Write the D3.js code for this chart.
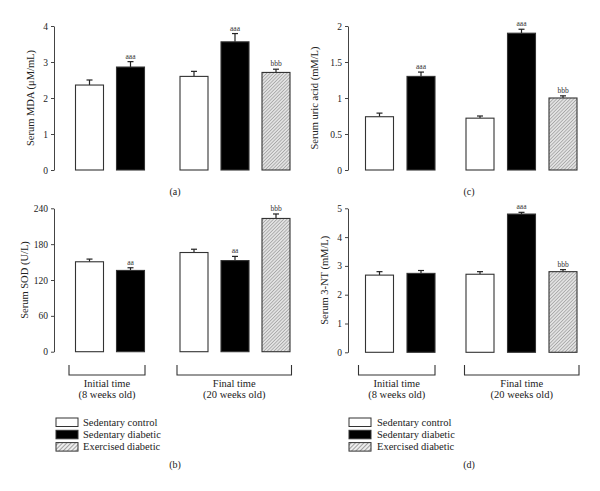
<!DOCTYPE html>
<html>
<head>
<meta charset="utf-8">
<script src="https://cdn.jsdelivr.net/npm/d3@7"></script>
<style>
  body { margin: 0; background: #fff; }
  svg { display: block; }
</style>
</head>
<body>
<svg id="chart" width="600" height="491"></svg>
<script>
// ---- Data ----
const groups = ["Initial time", "Final time"];
const groupSub = ["(8 weeks old)", "(20 weeks old)"];
const series = ["Sedentary control", "Sedentary diabetic", "Exercised diabetic"];
// bars per group: Initial has 2 series, Final has 3
const barGroup  = [0, 0, 1, 1, 1];
const barSeries = [0, 1, 0, 1, 2];

const mdaValues  = [2.36, 2.86, 2.60, 3.56, 2.71];
const mdaErrors  = [0.14, 0.15, 0.14, 0.23, 0.09];
const mdaSig     = ["", "aaa", "", "aaa", "bbb"];
const mdaTicks   = [0, 1, 2, 3, 4];

const uricValues = [0.74, 1.30, 0.72, 1.90, 1.00];
const uricErrors = [0.05, 0.06, 0.03, 0.055, 0.03];
const uricSig    = ["", "aaa", "", "aaa", "bbb"];
const uricTicks  = [0, 0.5, 1, 1.5, 2];

const sodValues  = [150.5, 136, 166, 152.5, 223];
const sodErrors  = [4.5, 4.5, 5.5, 7, 7.5];
const sodSig     = ["", "aa", "", "aa", "bbb"];
const sodTicks   = [0, 60, 120, 180, 240];

const ntValues   = [2.68, 2.74, 2.71, 4.80, 2.80];
const ntErrors   = [0.12, 0.10, 0.09, 0.06, 0.07];
const ntSig      = ["", "", "", "aaa", "bbb"];
const ntTicks    = [0, 1, 2, 3, 4, 5];

const panels = [
  { id: "a", title: "Serum MDA (\u03bcM/mL)", values: mdaValues, errors: mdaErrors, sig: mdaSig, ticks: mdaTicks,
    axisX: 54, x0: 89.5, step: 41, gap: 22.5, yTop: 26, yBot: 170, titleX: 32, label: "(a)", labelY: 195, bracket: false, legend: false },
  { id: "c", title: "Serum uric acid (mM/L)", values: uricValues, errors: uricErrors, sig: uricSig, ticks: uricTicks,
    axisX: 348, x0: 379.5, step: 41.5, gap: 17.5, yTop: 26, yBot: 170, titleX: 316, label: "(c)", labelY: 195, bracket: false, legend: false },
  { id: "b", title: "Serum SOD (U/L)", values: sodValues, errors: sodErrors, sig: sodSig, ticks: sodTicks,
    axisX: 54, x0: 89.5, step: 41, gap: 22.5, yTop: 208.3, yBot: 351.7, titleX: 26, label: "(b)", labelY: 468, bracket: true, legend: true,
    brackets: [[69, 145], [177, 291.5]], legendX: 56, legendTextX: 83 },
  { id: "d", title: "Serum 3-NT (mM/L)", values: ntValues, errors: ntErrors, sig: ntSig, ticks: ntTicks,
    axisX: 348, x0: 379.5, step: 41.5, gap: 17.5, yTop: 208.3, yBot: 352.3, titleX: 326, label: "(d)", labelY: 468, bracket: true, legend: true,
    brackets: [[358.5, 435], [464.5, 579]], legendX: 349, legendTextX: 377 }
];

const FONT = "'Liberation Serif', 'DejaVu Serif', 'Times New Roman', serif";
const svg = d3.select("#chart").style("font-family", FONT);

// hatch patterns
const defs = svg.append("defs");
function hatch(id, spacing, color, width, bg) {
  const p = defs.append("pattern").attr("id", id).attr("patternUnits", "userSpaceOnUse")
    .attr("width", spacing).attr("height", spacing).attr("patternTransform", "rotate(45)");
  p.append("rect").attr("width", spacing).attr("height", spacing).attr("fill", bg);
  p.append("line").attr("x1", 0).attr("y1", 0).attr("x2", 0).attr("y2", spacing)
    .attr("stroke", color).attr("stroke-width", width);
}
hatch("hatchBar", 2.4, "#777", 0.9, "#e2e2e2");
hatch("hatchLegend", 3, "#555", 1, "#eee");

const fills = ["#fff", "#000", "url(#hatchBar)"];
const legendFills = ["#fff", "#000", "url(#hatchLegend)"];
const barW = 28;

function txt(sel) {
  return sel.style("font-family", FONT).attr("fill", "#222");
}

panels.forEach(p => {
  const g = svg.append("g");
  const maxT = p.ticks[p.ticks.length - 1];
  const y = d3.scaleLinear().domain([0, maxT]).range([p.yBot, p.yTop]);
  const xCenter = i => p.x0 + i * p.step + barGroup[i] * p.gap;

  // axis
  const axis = d3.axisLeft(y).tickValues(p.ticks).tickSize(3).tickSizeOuter(0).tickPadding(3)
    .tickFormat(d => d3.format("")(d));
  const ag = g.append("g").attr("transform", `translate(${p.axisX},0)`).call(axis)
    .attr("font-family", null).attr("font-size", null);
  ag.select(".domain").attr("stroke", "#444").attr("stroke-width", 1);
  ag.selectAll(".tick line").attr("stroke", "#444");
  txt(ag.selectAll(".tick text")).style("font-size", "9.5px");

  // title
  txt(g.append("text").attr("transform", `translate(${p.titleX},${(p.yTop + p.yBot) / 2}) rotate(-90)`)
    .attr("text-anchor", "middle").attr("dominant-baseline", "middle")
    .style("font-size", "10.5px").text(p.title));

  // bars
  p.values.forEach((v, i) => {
    const cx = xCenter(i);
    const s = barSeries[i];
    const eTop = y(v + p.errors[i]);
    g.append("line").attr("x1", cx).attr("x2", cx).attr("y1", y(v)).attr("y2", eTop)
      .attr("stroke", "#222").attr("stroke-width", 1.2);
    g.append("line").attr("x1", cx - 3).attr("x2", cx + 3).attr("y1", eTop).attr("y2", eTop)
      .attr("stroke", "#222").attr("stroke-width", 1.2);
    g.append("rect").attr("x", cx - barW / 2).attr("y", y(v)).attr("width", barW).attr("height", y(0) - y(v))
      .attr("fill", fills[s]).attr("stroke", "#333").attr("stroke-width", 1.1);
    if (p.sig[i]) {
      txt(g.append("text").attr("x", cx).attr("y", eTop - 3).attr("text-anchor", "middle")
        .style("font-size", "7.5px").text(p.sig[i])).attr("fill", "#333");
    }
  });

  // panel label
  txt(g.append("text").attr("x", p.axisX + 121)
    .attr("y", p.labelY).attr("text-anchor", "middle").style("font-size", "10px").text(p.label));

  // brackets
  if (p.bracket) {
    p.brackets.forEach((b, gi) => {
      g.append("path").attr("d", `M${b[0]},365 V375 H${b[1]} V365`)
        .attr("fill", "none").attr("stroke", "#333").attr("stroke-width", 1.1);
      const mx = (b[0] + b[1]) / 2;
      txt(g.append("text").attr("x", mx).attr("y", 387).attr("text-anchor", "middle").style("font-size", "10.5px").text(groups[gi]));
      txt(g.append("text").attr("x", mx).attr("y", 398).attr("text-anchor", "middle").style("font-size", "10.5px").text(groupSub[gi]));
    });
  }

  // legend
  if (p.legend) {
    series.forEach((s, si) => {
      const ly = 418 + si * 12.3;
      g.append("rect").attr("x", p.legendX).attr("y", ly).attr("width", 22).attr("height", 8.5)
        .attr("fill", legendFills[si]).attr("stroke", "#333").attr("stroke-width", 1);
      txt(g.append("text").attr("x", p.legendTextX).attr("y", ly + 7.5).style("font-size", "10.5px").text(s));
    });
  }
});
</script>
</body>
</html>
